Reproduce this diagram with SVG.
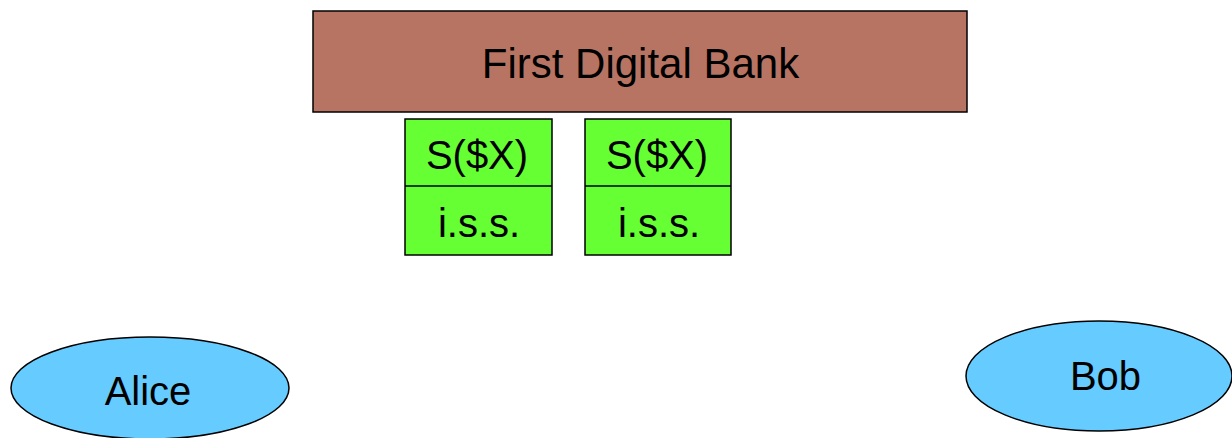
<svg xmlns="http://www.w3.org/2000/svg" width="1232" height="438" viewBox="0 0 1232 438">
<style>
text{font-family:"Liberation Sans",Arial,sans-serif;fill:#000;text-anchor:middle}
.bank{fill:#b87462;stroke:#000;stroke-width:1.5}
.sig{fill:#66ff33;stroke:#000;stroke-width:1.5}
.person{fill:#66ccff;stroke:#000;stroke-width:1.5}
.big{font-size:42px}
.mid{font-size:40px}
</style>
<rect width="1232" height="438" fill="#fff"/>
<g id="bank">
<rect class="bank" x="313" y="11" width="654" height="101"/>
<text class="big" x="640.5" y="78">First Digital Bank</text>
</g>
<g id="coin1">
<rect class="sig" x="405" y="119" width="147" height="136"/>
<line x1="405" y1="186" x2="552" y2="186" stroke="#000" stroke-width="1.5"/>
<text class="mid" x="477" y="169">S($X)</text>
<text class="mid" x="479" y="237">i.s.s.</text>
</g>
<g id="coin2">
<rect class="sig" x="585" y="119" width="146" height="136"/>
<line x1="585" y1="186" x2="731" y2="186" stroke="#000" stroke-width="1.5"/>
<text class="mid" x="657" y="169">S($X)</text>
<text class="mid" x="659" y="237">i.s.s.</text>
</g>
<g id="alice">
<ellipse class="person" cx="150" cy="388" rx="139" ry="51"/>
<text class="mid" x="148" y="405">Alice</text>
</g>
<g id="bob">
<ellipse class="person" cx="1099" cy="376" rx="133" ry="55"/>
<text class="mid" x="1105.5" y="390">Bob</text>
</g>
<g id="connectors"></g>
</svg>
